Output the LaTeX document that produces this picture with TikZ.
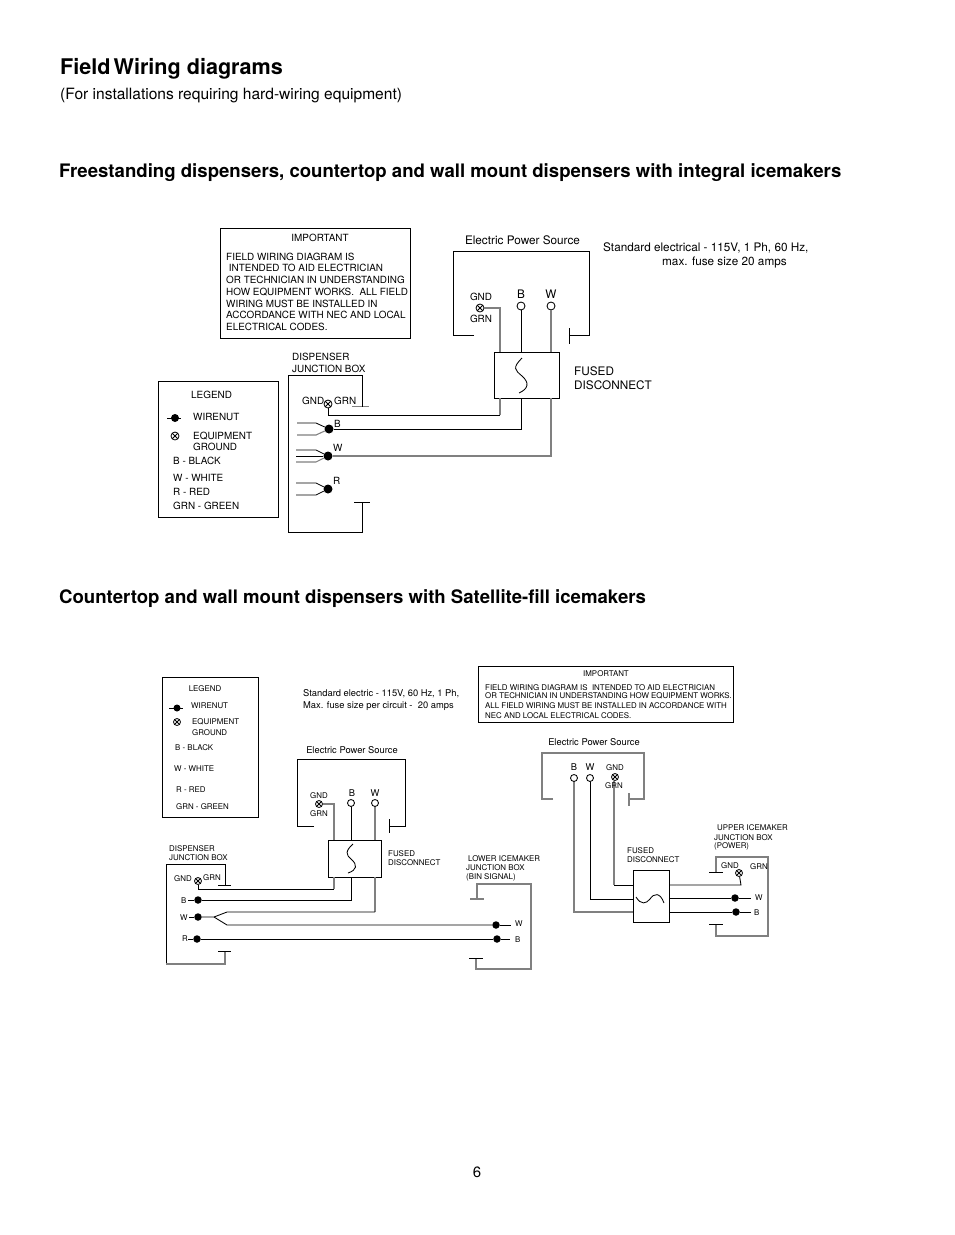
\documentclass[tikz,border=0pt]{standalone}
\usepackage{fontspec}
\setmainfont{TeX Gyre Heros}
\usetikzlibrary{positioning}
\newcommand{\fsz}[1]{\fontsize{#1}{#1}\selectfont}
\newcommand{\szA}{\fontsize{9.9}{11.75}\selectfont}
\newcommand{\szB}{\fontsize{7.9}{9}\selectfont}
\newcommand{\szC}{\fontsize{11.75}{14}\selectfont}
\newcommand{\szD}{\fontsize{9.35}{11}\selectfont}
\tikzset{
  lbl/.style={anchor=west,inner sep=0pt,yshift=-0.2pt},
  lblc/.style={anchor=center,inner sep=0pt,yshift=-0.2pt},
  wire/.style={line width=0.85pt},
  graywire/.style={line width=1.1pt,draw=black!50},
  frame/.style={draw,line width=0.85pt,inner sep=0pt},
  wirenut/.style={circle,fill=black,inner sep=0pt,minimum size=#1},
  wirenut/.default=9pt,
  terminal/.style={circle,draw,fill=white,line width=0.85pt,inner sep=0pt,minimum size=#1},
  terminal/.default=8pt,
  earth/.style={circle,draw,fill=white,line width=0.8pt,inner sep=0pt,minimum size=#1,
    path picture={\draw[line width=0.8pt] (path picture bounding box.north west) -- (path picture bounding box.south east)
      (path picture bounding box.north east) -- (path picture bounding box.south west);}},
  earth/.default=8pt
}
\begin{document}
\begin{tikzpicture}[x=1pt,y=-1pt]
  \useasboundingbox (0,0) rectangle (954,1235);

  % Headings
  \node[lbl,font=\bfseries\fsz{21.6},yshift=-1pt] (title) at (60,68) {Field\kern-3pt\ Wiring diagrams};
  \node[lbl,font=\fsz{15.55},yshift=-1pt] (subtitle) at (60,94) {(For installations requiring hard-wiring equipment)};
  \node[lbl,font=\bfseries\fsz{18.6},yshift=-1pt] (headA) at (59,171) {Freestanding dispensers, countertop and wall mount dispensers with integral icemakers};
  \node[lbl,font=\bfseries\fsz{18.6},yshift=-1pt] (headB) at (59,597) {Countertop and wall mount dispensers with Satellite-fill icemakers};
  \node[lblc,font=\fsz{15}] (pageno) at (477,1172) {6};

  % ---- Upper diagram ----
  % Important box
  \draw[frame] (220,228) rectangle (410,338);
  \node[lblc,font=\szA] (impA) at (320,238) {IMPORTANT};
  \node[lbl,font=\szA,align=left,anchor=north west] (impAtext) at (226,252.3) {%
    FIELD WIRING DIAGRAM IS\\
    \ INTENDED TO AID ELECTRICIAN\\
    OR TECHNICIAN IN UNDERSTANDING\\
    HOW EQUIPMENT WORKS.\ \ ALL FIELD\\
    WIRING MUST BE INSTALLED IN\\
    ACCORDANCE WITH NEC AND LOCAL\\
    ELECTRICAL CODES.};

  % Legend
  \draw[frame] (158,381) rectangle (278,517);
  \node[lbl,font=\szA] (legA) at (191,395) {LEGEND};
  \coordinate (legAnutl) at (167,418);
  \coordinate (legAnutr) at (181,418);
  \node[wirenut=8pt] (legAnut) at (175,418) {};
  \draw[wire] (legAnutl) -- (legAnutr);
  \node[lbl,font=\szA] (legAnuttxt) at (193,417) {WIRENUT};
  \node[earth] (legAgnd) at (175,436) {};
  \node[lbl,font=\szA] (legAgndA) at (193,435.5) {EQUIPMENT};
  \node[lbl,font=\szA] (legAgndB) at (193,446.5) {GROUND};
  \node[lbl,font=\szA] (legAb) at (173,460.5) {B - BLACK};
  \node[lbl,font=\szA] (legAw) at (173,478) {W - WHITE};
  \node[lbl,font=\szA] (legAr) at (173,491.5) {R - RED};
  \node[lbl,font=\szA] (legAg) at (173,505.5) {GRN - GREEN};

  % Dispenser junction box
  \node[lbl,font=\szA] (dispAa) at (292,357) {DISPENSER};
  \node[lbl,font=\szA] (dispAb) at (292,368.5) {JUNCTION BOX};
  \draw[graywire] (352,406.5) -- (369,406.5);
  \draw[wire] (362,406.5) -- (362,375) -- (288,375) -- (288,532) -- (362,532) -- (362,502);
  \draw[wire] (354,502) -- (370,502);
  \node[lbl,font=\szA] (dispAgnd) at (302,400.5) {GND};
  \node[lbl,font=\szA] (dispAgrn) at (334,400.5) {GRN};
  \node[earth] (dispAe) at (328,404) {};
  \node[wirenut=9pt] (nutAb) at (329,429) {};
  \node[wirenut=9pt] (nutAw) at (328,456) {};
  \node[wirenut=9pt] (nutAr) at (328,489) {};
  \node[lbl,font=\szA] (nutAbtxt) at (334,424) {B};
  \node[lbl,font=\szA] (nutAwtxt) at (333,447.5) {W};
  \node[lbl,font=\szA] (nutArtxt) at (333,480.5) {R};

  % Wire fans at the nuts
  \draw[wire] (297,423) -- (316,423) -- (nutAb);
  \draw[graywire] (297,435) -- (316,435) -- (nutAb);
  \draw[wire] (296,450) -- (316,450) -- (nutAw);
  \draw[wire] (296,456) -- (nutAw);
  \draw[graywire] (296,462) -- (316,462) -- (nutAw);
  \draw[wire] (296,483) -- (316,483) -- (nutAr);
  \draw[wire] (296,495) -- (316,495) -- (nutAr);

  % Power source
  \node[lblc,font=\szC] (srcA) at (522.5,240) {Electric Power Source};
  \draw[wire] (474,335) -- (453,335) -- (453,251) -- (589,251) -- (589,335) -- (569,335);
  \draw[wire] (569,328) -- (569,344);
  \node[lblc,font=\szA] (srcAgnd) at (481,297) {GND};
  \node[lblc,font=\szA] (srcAgrn) at (481,319) {GRN};
  \node[lblc,font=\szC] (srcAb) at (521,294) {B};
  \node[lblc,font=\szC] (srcAw) at (551,294) {W};
  \node[earth] (srcAe) at (480,308) {};
  \node[terminal] (srcAtb) at (521,306) {};
  \node[terminal] (srcAtw) at (551,306) {};

  % Fused disconnect
  \node[frame,minimum width=65pt,minimum height=46pt] (fuseA) at (526.5,375) {};
  \draw[wire] (522,358) .. controls (512,368) and (515,370) .. (522,376) .. controls (530,383) and (528,389) .. (519,393);
  \node[lbl,font=\szC] (fuseAa) at (574,371) {FUSED};
  \node[lbl,font=\szC] (fuseAb) at (574,385) {DISCONNECT};
  \node[lbl,font=\szC] (stdAa) at (603,248) {Standard electrical - 115V, 1 Ph, 60 Hz,};
  \node[lbl,font=\szC] (stdAb) at (662,262) {max. fuse size 20 amps};

  % Wires through the disconnect
  \coordinate (fuseAgt) at (500,352);
  \coordinate (fuseAgb) at (500,398);
  \coordinate (fuseAbt) at (521,352);
  \coordinate (fuseAbb) at (521,398);
  \coordinate (fuseAwt) at (551,352);
  \coordinate (fuseAwb) at (551,398);
  \coordinate (dispAj) at (328,415);
  \coordinate (dispAc) at (500,415);
  \draw[graywire] (srcAe) -| (fuseAgt);
  \draw[wire] (srcAtb) -- (fuseAbt);
  \draw[graywire] (srcAtw) -- (fuseAwt);
  \draw[graywire] (fuseAgb) -- (dispAc);
  \draw[wire] (dispAc) -- (dispAj) -- (dispAe);
  \draw[wire] (fuseAbb) |- (nutAb);
  \draw[graywire] (fuseAwb) |- (nutAw);

  % ---- Lower diagram ----
  % Legend
  \draw[frame] (162,677) rectangle (258,817);
  \node[lblc,font=\szB] (legB) at (205,688) {LEGEND};
  \coordinate (legBnutl) at (169,708);
  \coordinate (legBnutr) at (183,708);
  \node[wirenut=7pt] (legBnut) at (177,708) {};
  \draw[wire] (legBnutl) -- (legBnutr);
  \node[lbl,font=\szB] (legBnuttxt) at (191,705) {WIRENUT};
  \node[earth=7pt] (legBgnd) at (177,722) {};
  \node[lbl,font=\szB] (legBgndA) at (192,722) {EQUIPMENT};
  \node[lbl,font=\szB] (legBgndB) at (192,732) {GROUND};
  \node[lbl,font=\szB] (legBb) at (175,747) {B - BLACK};
  \node[lbl,font=\szB] (legBw) at (174,768) {W - WHITE};
  \node[lbl,font=\szB] (legBr) at (176,789) {R - RED};
  \node[lbl,font=\szB] (legBg) at (176,806) {GRN - GREEN};

  \node[lbl,font=\szD] (stdBa) at (303,693) {Standard electric - 115V, 60 Hz, 1 Ph,};
  \node[lbl,font=\szD] (stdBb) at (303,706) {Max. fuse size per circuit -\ \ 20 amps};

  % Important box
  \draw[frame] (478,666) rectangle (733,722);
  \node[lblc,font=\szB] (impB) at (606,673) {IMPORTANT};
  \node[lbl,font=\szB] (impBa) at (485,687) {FIELD WIRING DIAGRAM IS\ \ INTENDED TO AID ELECTRICIAN};
  \node[lbl,font=\szB] (impBb) at (485,696) {OR TECHNICIAN IN UNDERSTANDING HOW EQUIPMENT WORKS.};
  \node[lbl,font=\szB] (impBc) at (485,705) {ALL FIELD WIRING MUST BE INSTALLED IN ACCORDANCE WITH};
  \node[lbl,font=\szB] (impBd) at (485,715) {NEC AND LOCAL ELECTRICAL CODES.};

  % Power source, dispenser side
  \node[lblc,font=\szD] (srcB) at (352,750) {Electric Power Source};
  \draw[wire] (314,826) -- (297,826) -- (297,759) -- (405,759) -- (405,826) -- (389,826);
  \draw[wire] (389,819) -- (389,833);
  \node[lblc,font=\szB] (srcBgnd) at (319,795) {GND};
  \node[lblc,font=\szB] (srcBgrn) at (319,813) {GRN};
  \node[lblc,font=\szD] (srcBb) at (352,793) {B};
  \node[lblc,font=\szD] (srcBw) at (375,793) {W};
  \node[earth=7pt] (srcBe) at (319,804) {};
  \node[terminal=7pt] (srcBtb) at (351,803) {};
  \node[terminal=7pt] (srcBtw) at (375,803) {};

  % Fused disconnect, dispenser side
  \node[frame,minimum width=53pt,minimum height=37pt] (fuseB) at (354.5,858.5) {};
  \draw[wire] (353,844) .. controls (345,851) and (346,855) .. (351,859) .. controls (358,865) and (357,870) .. (348,873);
  \node[lbl,font=\szB] (fuseBa) at (388,853) {FUSED};
  \node[lbl,font=\szB] (fuseBb) at (388,862) {DISCONNECT};

  % Dispenser junction box
  \node[lbl,font=\szB] (dispBa) at (169,848) {DISPENSER};
  \node[lbl,font=\szB] (dispBb) at (169,857) {JUNCTION BOX};
  \draw[wire] (218,885) -- (231,885);
  \draw[wire] (225,885) -- (225,864) -- (166,864) -- (166,964);
  \draw[graywire] (166,964) -- (225,964) -- (225,951);
  \draw[wire] (218,951) -- (231,951);
  \node[lbl,font=\szB] (dispBgnd) at (174,878) {GND};
  \node[lbl,font=\szB] (dispBgrn) at (203,877) {GRN};
  \node[earth=7pt] (dispBe) at (198,881) {};
  \node[wirenut=7.5pt] (nutBb) at (198,900) {};
  \node[wirenut=7.5pt] (nutBw) at (198,917) {};
  \node[wirenut=7.5pt] (nutBr) at (197,939) {};
  \node[lbl,font=\szB] (nutBbtxt) at (181,900) {B};
  \node[lbl,font=\szB] (nutBwtxt) at (180,917.5) {W};
  \node[lbl,font=\szB] (nutBrtxt) at (182,938) {R};
  \coordinate (nutBbs) at (188,900);
  \coordinate (nutBws) at (189,917);
  \coordinate (nutBrs) at (188,939);
  \draw[wire] (nutBbs) -- (nutBb);
  \draw[wire] (nutBws) -- (nutBw);
  \draw[wire] (nutBrs) -- (nutBr);

  % Lower icemaker junction box
  \node[lbl,font=\szB] (lowBa) at (468,858) {LOWER ICEMAKER};
  \node[lbl,font=\szB] (lowBb) at (466,867) {JUNCTION BOX};
  \node[lbl,font=\szB] (lowBc) at (466,877) {(BIN SIGNAL)};
  \draw[graywire] (470,899) -- (484,899);
  \draw[graywire] (477,899) -- (477,884) -- (531,884) -- (531,969) -- (476,969) -- (476,958);
  \draw[wire] (469,958) -- (483,958);
  \node[wirenut=7.5pt] (lowBnw) at (496,925) {};
  \node[wirenut=7.5pt] (lowBnb) at (497,939) {};
  \coordinate (lowBsw) at (511,925);
  \coordinate (lowBsb) at (510,939);
  \draw[wire] (lowBnw) -- (lowBsw);
  \draw[wire] (lowBnb) -- (lowBsb);
  \node[lbl,font=\szB] (lowBw) at (515,923) {W};
  \node[lbl,font=\szB] (lowBbb) at (515,939) {B};

  % Wires, dispenser side
  \coordinate (fuseBgt) at (334,840);
  \coordinate (fuseBgb) at (334,877);
  \coordinate (fuseBbt) at (351,840);
  \coordinate (fuseBbb) at (351,877);
  \coordinate (fuseBwt) at (375,840);
  \coordinate (fuseBwb) at (375,877);
  \coordinate (dispBc) at (334,889);
  \coordinate (dispBj) at (198,889);
  \coordinate (forkB) at (214,917);
  \coordinate (forkBa) at (227,912);
  \coordinate (forkBb) at (227,925);
  \coordinate (forkBc) at (375,912);
  \draw[graywire] (srcBe) -| (fuseBgt);
  \draw[wire] (srcBtb) -- (fuseBbt);
  \draw[graywire] (srcBtw) -- (fuseBwt);
  \draw[graywire] (fuseBgb) -- (dispBc);
  \draw[wire] (dispBc) -- (dispBj) -- (dispBe);
  \draw[wire] (fuseBbb) |- (nutBb);
  \draw[graywire] (fuseBwb) -- (forkBc);
  \draw[wire] (forkBc) -- (forkBa) -- (forkB) -- (nutBw);
  \draw[wire] (forkB) -- (forkBb) -- (lowBnw);
  \draw[wire] (nutBr) -- (lowBnb);

  % Power source, icemaker side
  \node[lblc,font=\szD] (srcC) at (594,742) {Electric Power Source};
  \draw[graywire] (553,799) -- (542,799) -- (542,753) -- (644,753) -- (644,799) -- (629,799);
  \draw[graywire] (629,793) -- (629,806);
  \node[lblc,font=\szD] (srcCb) at (574,767) {B};
  \node[lblc,font=\szD] (srcCw) at (590,767) {W};
  \node[lblc,font=\szB] (srcCgnd) at (615,767) {GND};
  \node[terminal=7pt] (srcCtb) at (574,778) {};
  \node[terminal=7pt] (srcCtw) at (590,778) {};

  % Fused disconnect, icemaker side
  \node[frame,minimum width=36pt,minimum height=52pt] (fuseC) at (651,896) {};
  \draw[wire] (636,897) .. controls (641,905) and (646,904) .. (650,899) .. controls (654,893) and (660,892) .. (664,903);
  \node[lbl,font=\szB] (fuseCa) at (627,850) {FUSED};
  \node[lbl,font=\szB] (fuseCb) at (627,859) {DISCONNECT};

  % Upper icemaker junction box
  \node[lbl,font=\szB] (upCa) at (717,827) {UPPER ICEMAKER};
  \node[lbl,font=\szB] (upCb) at (714,837) {JUNCTION BOX};
  \node[lbl,font=\szB] (upCc) at (714,846) {(POWER)};
  \draw[wire] (709,872) -- (723,872);
  \draw[graywire] (716,872) -- (716,857) -- (768,857) -- (768,936) -- (716,936) -- (716,924);
  \draw[wire] (709,924) -- (723,924);
  \node[lbl,font=\szB] (upCgnd) at (721,865) {GND};
  \node[lbl,font=\szB] (upCgrn) at (750,866) {GRN};
  \node[earth=7pt] (upCe) at (739,873) {};
  \node[wirenut=7.5pt] (upCnw) at (735,898) {};
  \node[wirenut=7.5pt] (upCnb) at (736,912) {};
  \coordinate (upCsw) at (751,898);
  \coordinate (upCsb) at (751,912);
  \draw[wire] (upCnw) -- (upCsw);
  \draw[wire] (upCnb) -- (upCsb);
  \node[lbl,font=\szB] (upCw) at (755,897) {W};
  \node[lbl,font=\szB] (upCbb) at (754,912) {B};

  % Wires, icemaker side
  \coordinate (fuseCbl) at (633,912);
  \coordinate (fuseCwl) at (633,899);
  \coordinate (fuseCgl) at (633,885);
  \coordinate (fuseCbr) at (669,912);
  \coordinate (fuseCwr) at (669,898);
  \coordinate (fuseCgr) at (669,885);
  \coordinate (upCj) at (741,885);
  \coordinate (srcCc) at (614,885);
  \node[earth=7pt] (srcCe) at (615,777) {};
  \draw[graywire] (srcCtb) |- (fuseCbl);
  \draw[wire] (srcCtw) |- (fuseCwl);
  \draw[graywire] (srcCe.south -| srcCc) -- (srcCc);
  \draw[wire] (srcCc) -- (fuseCgl);
  \draw[wire] (fuseCgr) -- (upCj) -- (upCe);
  \draw[wire] (fuseCwr) -- (upCnw);
  \draw[wire] (fuseCbr) -- (upCnb);
  \node[lblc,font=\szB] (srcCgrn) at (614,785) {GRN};
\end{tikzpicture}
\end{document}
